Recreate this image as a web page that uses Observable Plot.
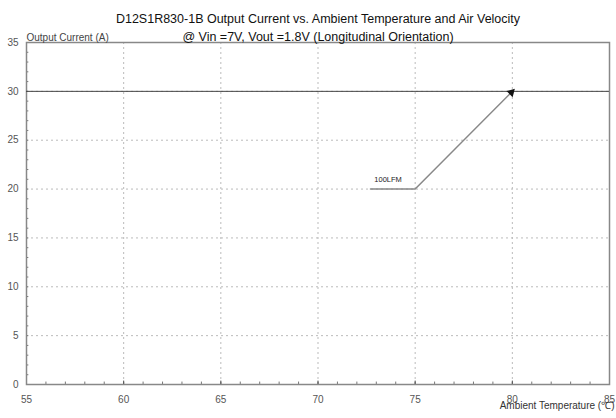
<!DOCTYPE html>
<html><head><meta charset="utf-8">
<script src="https://cdn.jsdelivr.net/npm/d3@7"></script>
<script src="https://cdn.jsdelivr.net/npm/@observablehq/plot@0.6"></script>
<style>body{margin:0;background:#fff}</style>
</head><body><div id="chart"></div>
<script>
const title1 = "D12S1R830-1B Output Current vs. Ambient Temperature and Air Velocity";
const title2 = "@ Vin =7V, Vout =1.8V (Longitudinal Orientation)";
const yLabel = "Output Current (A)";
const xLabel = "Ambient Temperature (℃)";
const xTicks = [55, 60, 65, 70, 75, 80, 85];
const yTicks = [0, 5, 10, 15, 20, 25, 30, 35];
const curveTemp = [72.7, 75, 80];
const curveCurrent = [20, 20, 30];
const curveName = "100LFM";
const limitCurrent = 30;

const curve = curveTemp.map((t, i) => ({t, c: curveCurrent[i]}));
const minorX = d3.range(56, 85, 1);
const minorY = d3.range(1, 35, 1);
const tickCol = "#555";

const chart = Plot.plot({
  width: 616, height: 418,
  marginLeft: 26, marginRight: 7, marginTop: 42, marginBottom: 34,
  x: {domain: [55, 85], axis: null},
  y: {domain: [0, 35], axis: null},
  style: {fontFamily: "Liberation Sans, Arial, sans-serif", background: "#fff"},
  marks: [
    Plot.ruleX(xTicks.slice(1, -1), {stroke: "#bbb", strokeDasharray: "2,3"}),
    Plot.ruleY(yTicks.slice(1, -1), {stroke: "#bbb", strokeDasharray: "2,3"}),
    Plot.ruleX(minorX, {y1: 0, y2: 0.25, stroke: "#777"}),
    Plot.ruleY(minorY, {x1: 55, x2: 55.12, stroke: "#777"}),
    Plot.ruleX(xTicks, {y1: 0, y2: 0.35, stroke: "#555"}),
    Plot.frame({stroke: "#888", strokeWidth: 1.5}),
    Plot.ruleY([limitCurrent], {stroke: "#444", strokeWidth: 1}),
    Plot.line(curve, {x: "t", y: "c", stroke: "#888", strokeWidth: 1.5}),
    Plot.dot([curve[curve.length - 1]], {x: "t", y: "c", symbol: "triangle", r: 3.2, fill: "#111", stroke: "none", rotate: 45, dx: -1, dy: 1}),
    Plot.text([curveName], {x: curveTemp[0] + 0.2, y: curveCurrent[0] + 1, text: d => d, textAnchor: "start", fontSize: 7.5, fill: "#222"}),
    Plot.text(xTicks, {x: d => d, y: 0, dy: 15, text: d => String(d), fontSize: 10, fill: tickCol}),
    Plot.text(yTicks, {x: 55, y: d => d, dx: -8, text: d => String(d), textAnchor: "end", fontSize: 10, fill: tickCol}),
    Plot.text([title1], {frameAnchor: "top", dy: -28, text: d => d, fontSize: 12.5, fill: "#111"}),
    Plot.text([title2], {frameAnchor: "top", dy: -10.5, text: d => d, fontSize: 12.5, fill: "#111"}),
    Plot.text([yLabel], {frameAnchor: "top-left", dx: 0, dy: -9, text: d => d, textAnchor: "start", fontSize: 10, fill: "#444"}),
    Plot.text([xLabel], {frameAnchor: "bottom-right", dx: 5, dy: 24, text: d => d, textAnchor: "end", fontSize: 10, fill: "#333"})
  ]
});
document.getElementById("chart").appendChild(chart);
</script></body></html>
